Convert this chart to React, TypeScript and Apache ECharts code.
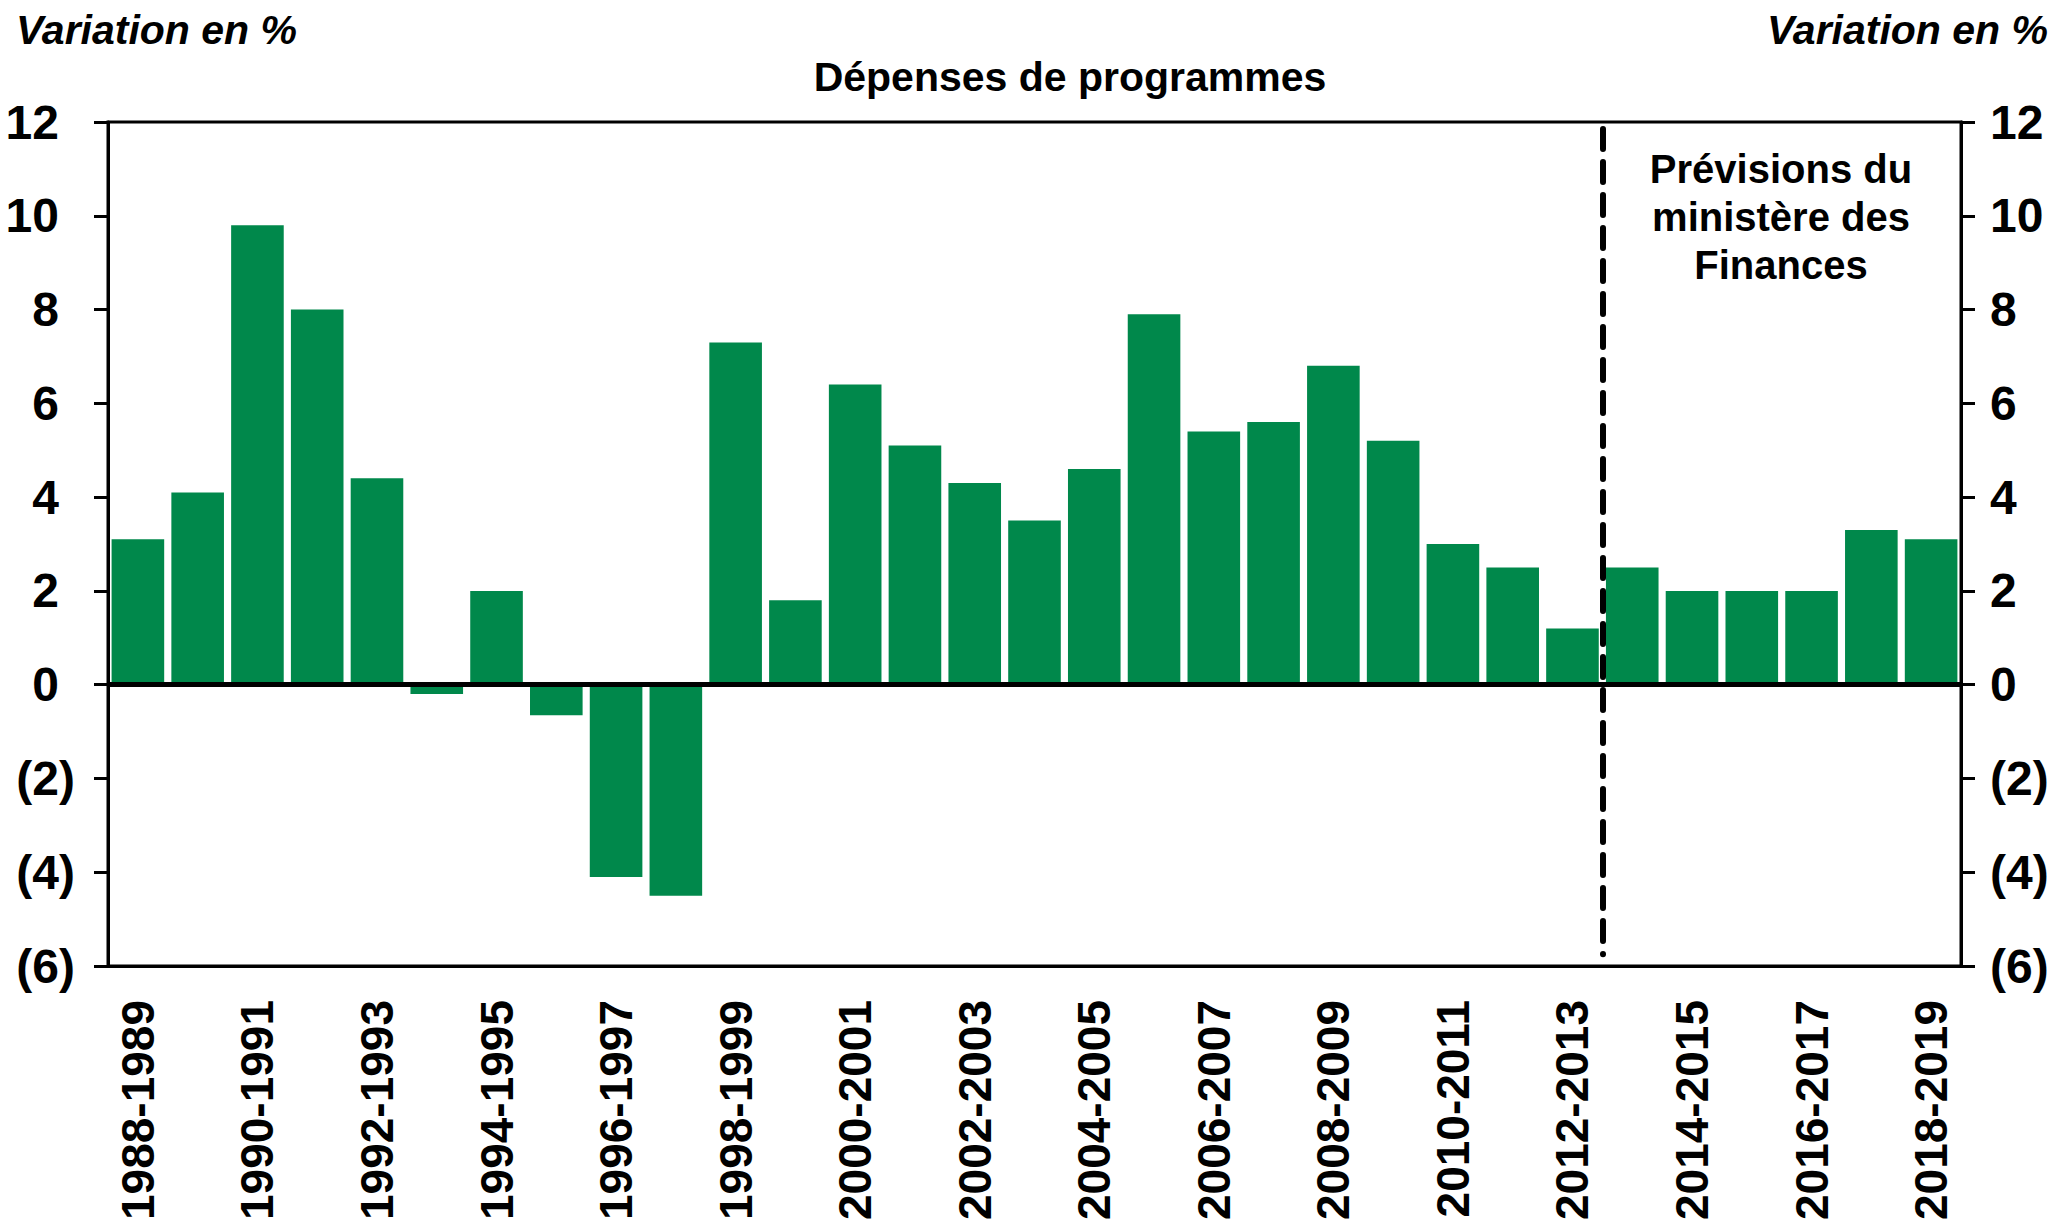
import React, { useEffect, useRef } from "react";
import * as echarts from "echarts";

const categories = [
  "1988-1989", "1989-1990", "1990-1991", "1991-1992", "1992-1993", "1993-1994",
  "1994-1995", "1995-1996", "1996-1997", "1997-1998", "1998-1999", "1999-2000",
  "2000-2001", "2001-2002", "2002-2003", "2003-2004", "2004-2005", "2005-2006",
  "2006-2007", "2007-2008", "2008-2009", "2009-2010", "2010-2011", "2011-2012",
  "2012-2013", "2013-2014", "2014-2015", "2015-2016", "2016-2017", "2017-2018",
  "2018-2019",
];

const values = [
  3.1, 4.1, 9.8, 8.0, 4.4, -0.2, 2.0, -0.65, -4.1, -4.5, 7.3, 1.8, 6.4, 5.1, 4.3,
  3.5, 4.6, 7.9, 5.4, 5.6, 6.8, 5.2, 3.0, 2.5, 1.2, 2.5, 2.0, 2.0, 2.0, 3.3, 3.1,
];

const yMin = -6;
const yMax = 12;
const yStep = 2;
const forecastStartIndex = 25; // boundary before 2013-2014

const titleText = "Dépenses de programmes";
const unitText = "Variation en %";
const forecastText = "Prévisions du\nministère des\nFinances";

const FONT = '"Liberation Sans", Arial, Helvetica, sans-serif';
const GREEN = "#00884B";

export default function App() {
  const ref = useRef<HTMLDivElement>(null);

  useEffect(() => {
    if (!ref.current) return;
    const chart = echarts.init(ref.current, undefined, { renderer: "svg" });

    const labelStyle = {
      fontFamily: FONT,
      fontWeight: "bold" as const,
      fontSize: 48,
      color: "#000",
    };

    const option: any = {
      animation: false,
      backgroundColor: "#fff",
      grid: {
        left: 108,
        right: 103,
        top: 122,
        bottom: 261,
        show: true,
        borderColor: "#000",
        borderWidth: 3,
        backgroundColor: "transparent",
      },
      xAxis: [
        {
          type: "category",
          data: categories,
          axisLine: { show: true, onZero: false, lineStyle: { color: "#000", width: 3 } },
          axisTick: { show: false },
          axisLabel: {
            interval: 1,
            rotate: 90,
            margin: 34,
            fontFamily: FONT,
            fontWeight: "bold",
            fontSize: 46,
            color: "#000",
          },
          splitLine: { show: false },
        },
        {
          type: "value",
          min: 0,
          max: categories.length,
          show: false,
          splitLine: { show: false },
        },
      ],
      yAxis: [
        {
          type: "value",
          min: yMin,
          max: yMax,
          interval: yStep,
          position: "left",
          axisLine: { show: true, lineStyle: { color: "#000", width: 3 } },
          axisTick: { show: true, inside: false, length: 14, lineStyle: { color: "#000", width: 3 } },
          splitLine: { show: false },
          axisLabel: {
            ...labelStyle,
            margin: 33,
            formatter: (v: number) => (v < 0 ? `(${-v})` : `{p|${v}}`),
            rich: {
              p: { ...labelStyle, padding: [0, 16, 0, 0] },
            },
          },
        },
        {
          type: "value",
          min: yMin,
          max: yMax,
          interval: yStep,
          position: "right",
          axisLine: { show: true, lineStyle: { color: "#000", width: 3 } },
          axisTick: { show: true, inside: false, length: 14, lineStyle: { color: "#000", width: 3 } },
          splitLine: { show: false },
          axisLabel: {
            ...labelStyle,
            margin: 29,
            formatter: (v: number) => (v < 0 ? `(${-v})` : `${v}`),
          },
        },
      ],
      series: [
        {
          type: "bar",
          data: values,
          xAxisIndex: 0,
          yAxisIndex: 0,
          barCategoryGap: "12%",
          itemStyle: { color: GREEN },
          markLine: {
            silent: true,
            symbol: ["none", "none"],
            label: { show: false },
            lineStyle: { color: "#000", width: 5, type: "solid" },
            data: [{ yAxis: 0 }],
          },
          z: 2,
        },
        {
          type: "line",
          data: [],
          xAxisIndex: 1,
          yAxisIndex: 0,
          markLine: {
            silent: true,
            symbol: ["none", "none"],
            label: { show: false },
            lineStyle: { color: "#000", width: 6, type: [20, 13], cap: "round" },
            data: [
              [
                { coord: [forecastStartIndex, 11.85] },
                { coord: [forecastStartIndex, -5.75] },
              ],
            ],
          },
          z: 5,
        },
      ],
      graphic: [
        {
          type: "text",
          x: 16,
          y: 30,
          style: {
            text: unitText,
            font: `italic bold 41px ${FONT}`,
            fill: "#000",
            align: "left",
            verticalAlign: "middle",
          },
        },
        {
          type: "text",
          x: 2048,
          y: 30,
          style: {
            text: unitText,
            font: `italic bold 41px ${FONT}`,
            fill: "#000",
            align: "right",
            verticalAlign: "middle",
          },
        },
        {
          type: "text",
          x: 1070,
          y: 77,
          style: {
            text: titleText,
            font: `bold 41px ${FONT}`,
            fill: "#000",
            align: "center",
            verticalAlign: "middle",
          },
        },
        {
          type: "text",
          x: 1781,
          y: 217,
          z: 10,
          style: {
            text: forecastText,
            font: `bold 40px ${FONT}`,
            lineHeight: 48,
            fill: "#000",
            align: "center",
            verticalAlign: "middle",
          },
        },
      ],
    };

    chart.setOption(option);
    return () => chart.dispose();
  }, []);

  return (
    <div
      ref={ref}
      style={{ position: "absolute", left: 0, top: 0, width: 2064, height: 1227 }}
    />
  );
}
